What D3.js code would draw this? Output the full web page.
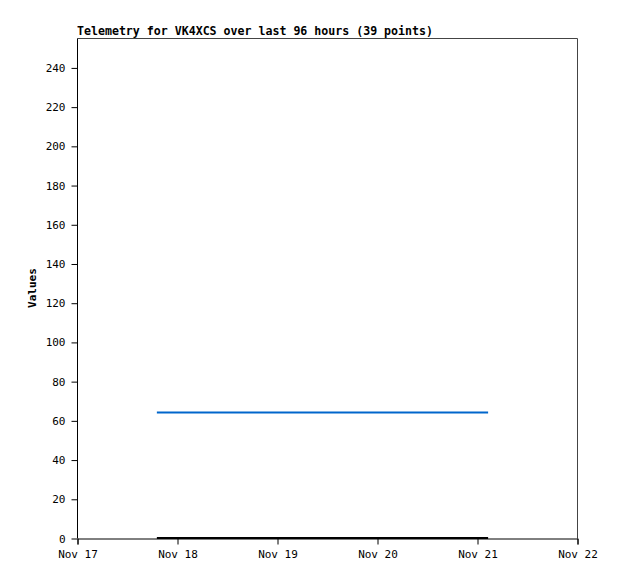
<!DOCTYPE html>
<meta charset="utf-8">
<script src="https://d3js.org/d3.v7.min.js"></script>
<style>
body { margin: 0; background: #fff; }
text { font-family: "DejaVu Sans Mono", monospace; }
.title { font-weight: bold; font-size: 11.6px; }
.axis text { font-size: 11px; fill: #000; }
.ylabel { font-weight: bold; font-size: 11px; }
</style>
<body>
<script>

var width = 618,
    height = 579

// 39 telemetry samples (times, roughly every two hours)
var times = [
    "2023-11-17 19:10", "2023-11-17 21:15", "2023-11-17 23:20", "2023-11-18 01:25",
    "2023-11-18 03:30", "2023-11-18 05:35", "2023-11-18 07:40", "2023-11-18 09:45",
    "2023-11-18 11:50", "2023-11-18 13:55", "2023-11-18 16:00", "2023-11-18 18:05",
    "2023-11-18 20:10", "2023-11-18 22:15", "2023-11-19 00:20", "2023-11-19 02:25",
    "2023-11-19 04:30", "2023-11-19 06:35", "2023-11-19 08:40", "2023-11-19 10:45",
    "2023-11-19 12:50", "2023-11-19 14:55", "2023-11-19 17:00", "2023-11-19 19:05",
    "2023-11-19 21:10", "2023-11-19 23:15", "2023-11-20 01:20", "2023-11-20 03:25",
    "2023-11-20 05:30", "2023-11-20 07:35", "2023-11-20 09:40", "2023-11-20 11:45",
    "2023-11-20 13:50", "2023-11-20 15:55", "2023-11-20 18:00", "2023-11-20 20:05",
    "2023-11-20 22:10", "2023-11-21 00:15", "2023-11-21 02:40"
]

var channelA = [64, 64, 64, 64, 64, 64, 64, 64, 64, 64, 64, 64, 64, 64, 64, 64, 64, 64, 64, 64,
                64, 64, 64, 64, 64, 64, 64, 64, 64, 64, 64, 64, 64, 64, 64, 64, 64, 64, 64]
var channelB = [0, 0, 0, 0, 0, 0, 0, 0, 0, 0, 0, 0, 0, 0, 0, 0, 0, 0, 0, 0,
                0, 0, 0, 0, 0, 0, 0, 0, 0, 0, 0, 0, 0, 0, 0, 0, 0, 0, 0]

var yTicks = [0, 20, 40, 60, 80, 100, 120, 140, 160, 180, 200, 220, 240]

var parse = d3.timeParse("%Y-%m-%d %H:%M")
var dates = times.map(parse)

var margin = {left: 77, top: 38, right: 41, bottom: 41}

var x = d3.scaleTime()
    .domain([new Date(2023, 10, 17), new Date(2023, 10, 22)])
    .range([margin.left, width - margin.right])

var y = d3.scaleLinear()
    .domain([0, 255])
    .range([height - margin.bottom, margin.top])

var svg = d3.select("body").append("svg")
    .attr("width", width)
    .attr("height", height)

// frame (top and right)
svg.append("path")
    .attr("d", "M" + (margin.left + 0.5) + "," + (margin.top + 0.5) +
               "H" + (width - margin.right + 0.5) +
               "V" + (height - margin.bottom + 0.5))
    .attr("fill", "none")
    .attr("stroke", "#444")

function series(vals, color, sw, dy) {
    var line = d3.line()
        .x(function(d, i) { return x(dates[i]) })
        .y(function(d) { return y(d) + dy })
    svg.append("path")
        .datum(vals)
        .attr("d", line)
        .attr("fill", "none")
        .attr("stroke", color)
        .attr("stroke-width", sw)
}

series(channelA, "#0066cc", 2, 0)
series(channelB, "#000", 2, 0)

var xAxis = svg.append("g")
    .attr("class", "axis")
    .attr("transform", "translate(0.5," + (height - margin.bottom + 0.5) + ")")
    .call(d3.axisBottom(x)
        .ticks(d3.timeDay.every(1))
        .tickSize(6)
        .tickPadding(6)
        .tickFormat(d3.timeFormat("%b %d")))
xAxis.select(".domain").attr("stroke", "#000")

var yAxis = svg.append("g")
    .attr("class", "axis")
    .attr("transform", "translate(" + (margin.left + 0.5) + ",0.5)")
    .call(d3.axisLeft(y)
        .tickValues(yTicks)
        .tickSize(6)
        .tickPadding(6))
yAxis.select(".domain").attr("d", "M0," + margin.top + "V" + (height - margin.bottom))

svg.append("text")
    .attr("class", "title")
    .attr("x", margin.left)
    .attr("y", 35)
    .text("Telemetry for VK4XCS over last 96 hours (39 points)")

svg.append("text")
    .attr("class", "ylabel")
    .attr("transform", "translate(36," + (y(127.5)) + ") rotate(-90)")
    .attr("text-anchor", "middle")
    .text("Values")

</script>
</body>
